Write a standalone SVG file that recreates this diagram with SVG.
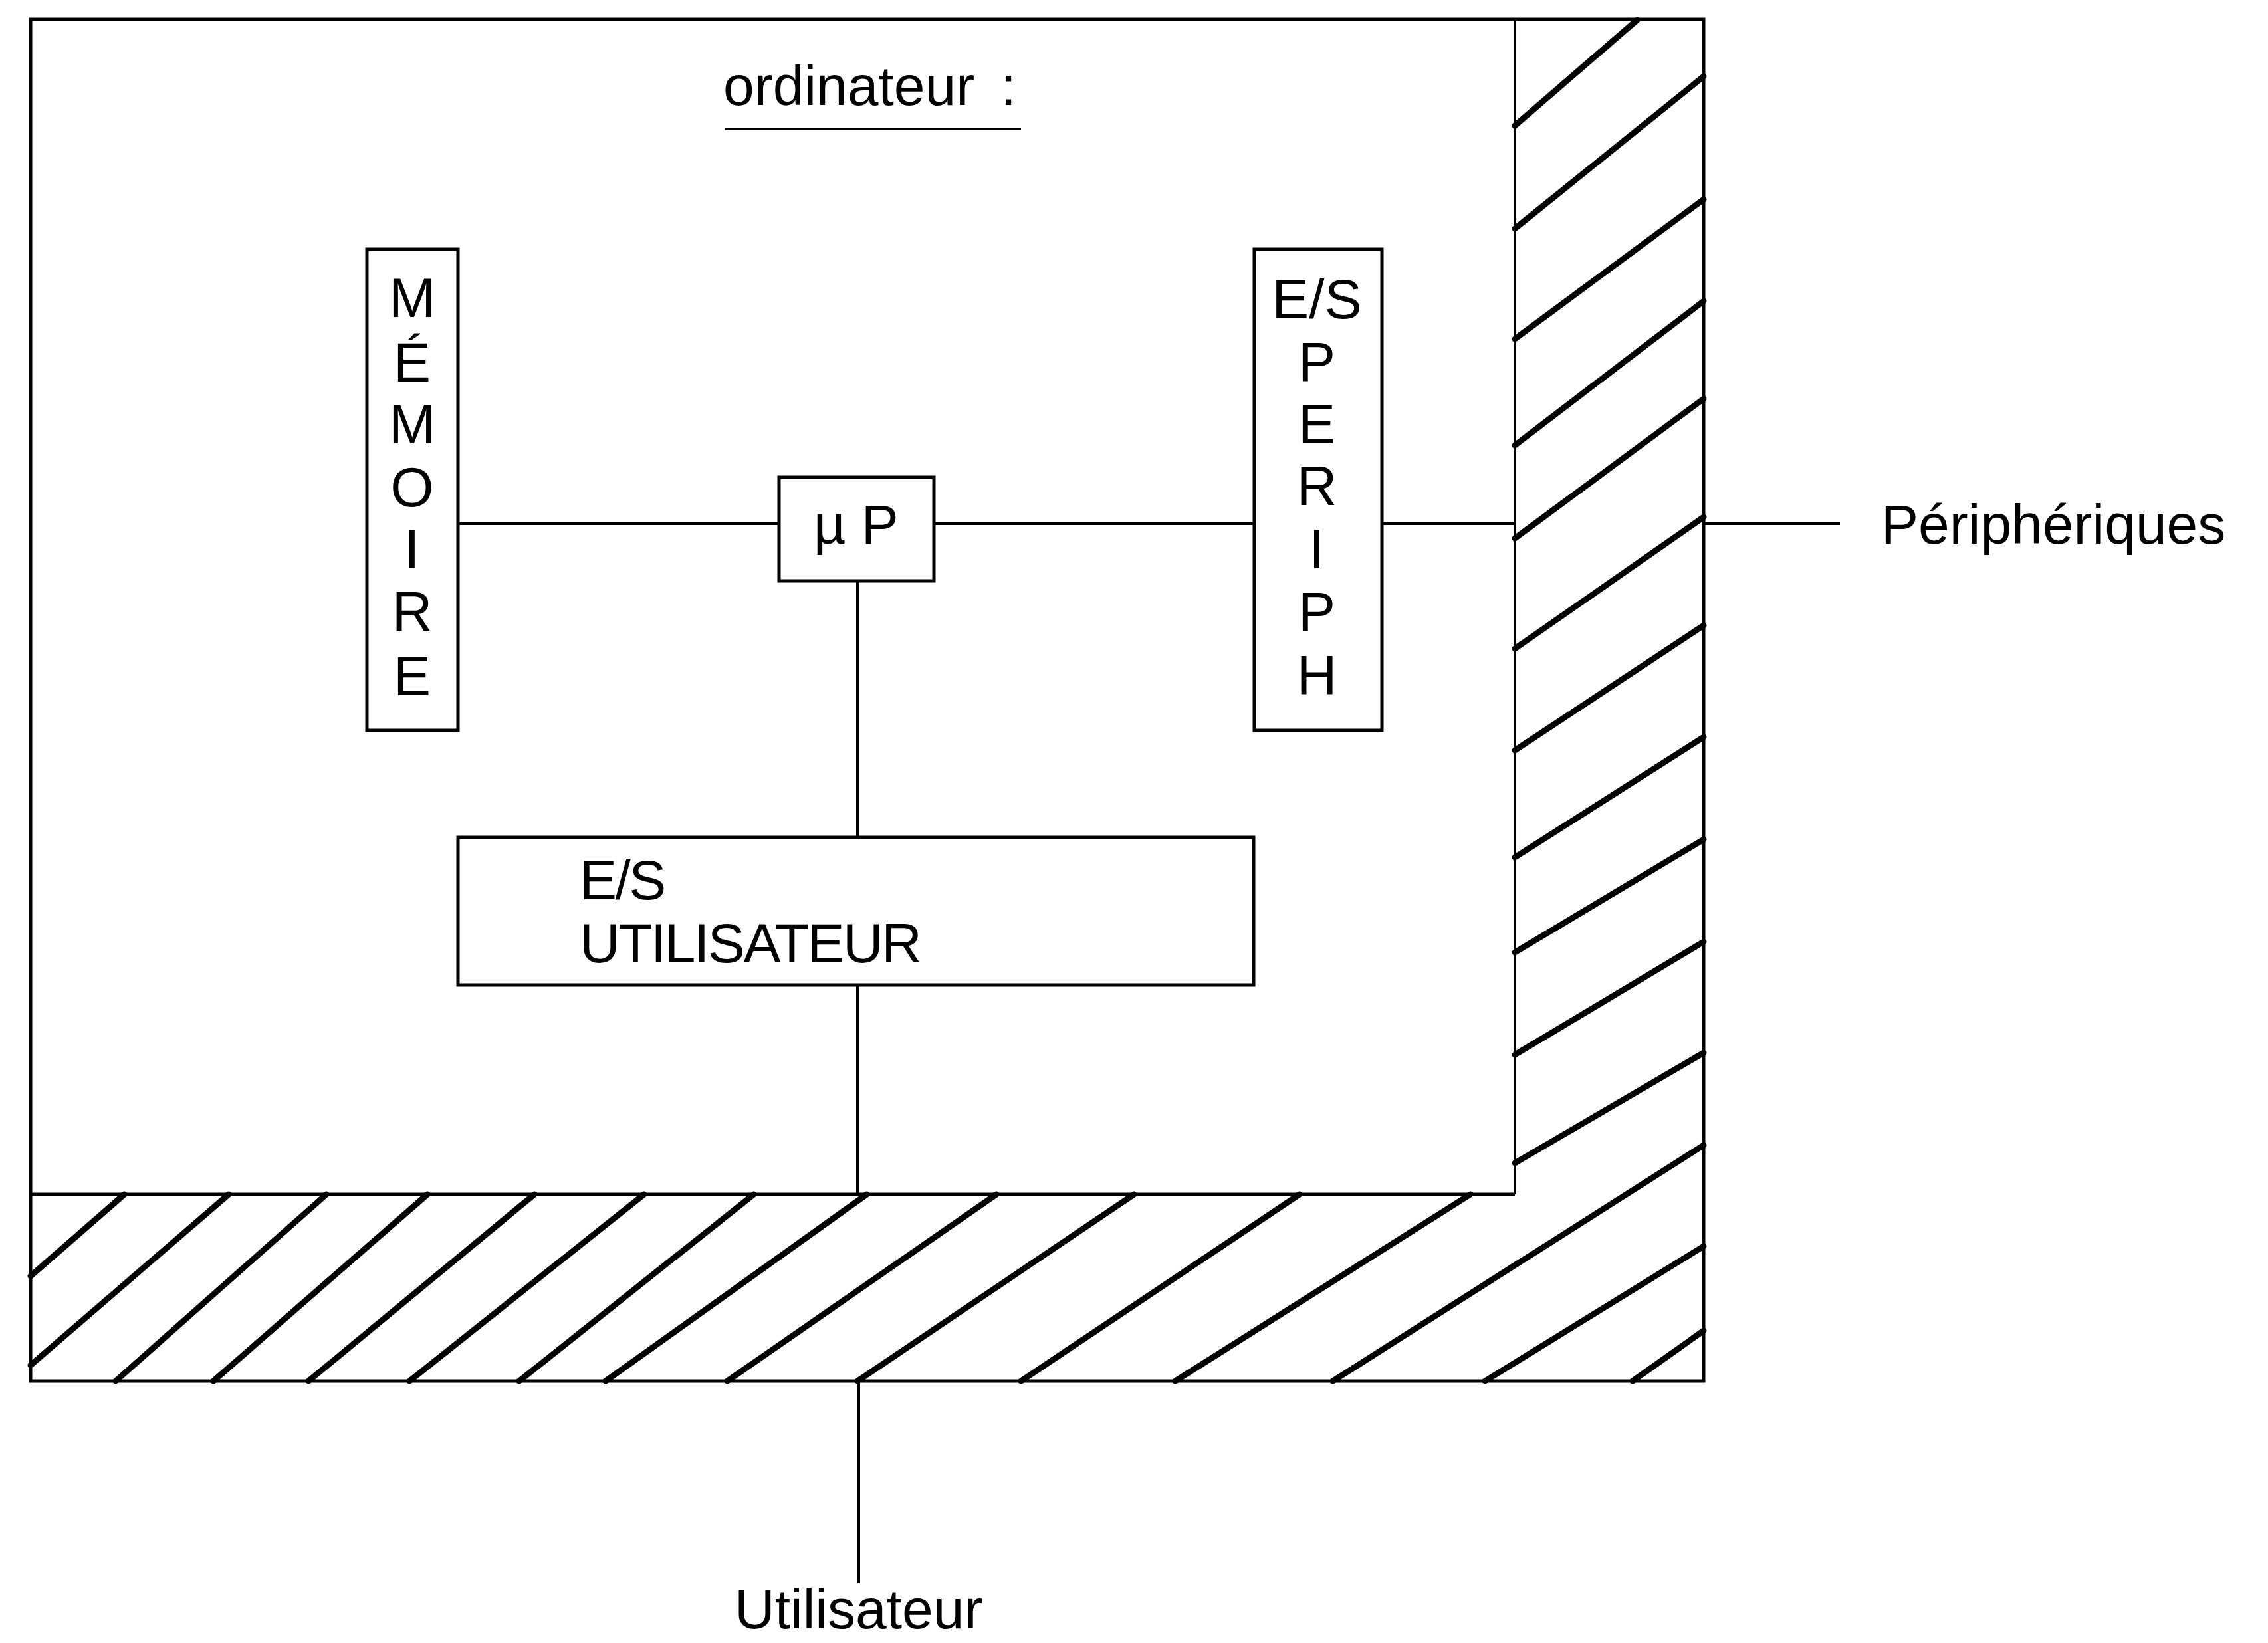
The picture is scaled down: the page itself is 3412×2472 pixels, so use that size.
<svg xmlns="http://www.w3.org/2000/svg" width="3412" height="2472" viewBox="0 0 3412 2472">
<style>
  .t { font-family: "Liberation Sans", Arial, Helvetica, sans-serif; font-size: 84px; fill: #000; }
  .c { text-anchor: middle; }
  .box { fill: #fff; stroke: #000; stroke-width: 5; }
  .conn { stroke: #000; stroke-width: 4; fill: none; }
  .frame { fill: none; stroke: #000; stroke-width: 5; }
  .hatch { stroke: #000; stroke-width: 9; stroke-linecap: round; fill: none; }
</style>
<rect width="3412" height="2472" fill="#fff"/>

<g id="ordinateur">
  <rect class="frame" x="46" y="29" width="2517" height="2049"/>
  <line class="conn" x1="2279" y1="29" x2="2279" y2="1797"/>
  <line class="frame" x1="46" y1="1797" x2="2279" y2="1797"/>
  <text class="t" x="1088" y="158" word-spacing="16">ordinateur :</text>
  <line x1="1090" y1="194" x2="1536" y2="194" stroke="#000" stroke-width="4"/>
</g>

<g id="hachures">
  <line class="hatch" x1="187" y1="1797" x2="46" y2="1920"/>
  <line class="hatch" x1="344" y1="1797" x2="46" y2="2054"/>
  <line class="hatch" x1="491" y1="1797" x2="174" y2="2078"/>
  <line class="hatch" x1="643" y1="1797" x2="321" y2="2078"/>
  <line class="hatch" x1="804" y1="1797" x2="464" y2="2078"/>
  <line class="hatch" x1="969" y1="1797" x2="616" y2="2078"/>
  <line class="hatch" x1="1134" y1="1797" x2="781" y2="2078"/>
  <line class="hatch" x1="1304" y1="1797" x2="911" y2="2078"/>
  <line class="hatch" x1="1499" y1="1797" x2="1094" y2="2078"/>
  <line class="hatch" x1="1706" y1="1797" x2="1290" y2="2078"/>
  <line class="hatch" x1="1955" y1="1797" x2="1536" y2="2078"/>
  <line class="hatch" x1="2212" y1="1797" x2="1768" y2="2078"/>
  <line class="hatch" x1="2563" y1="1723" x2="2005" y2="2078"/>
  <line class="hatch" x1="2563" y1="1875" x2="2234" y2="2078"/>
  <line class="hatch" x1="2563" y1="2002" x2="2456" y2="2078"/>
  <line class="hatch" x1="2463" y1="30" x2="2279" y2="189"/>
  <line class="hatch" x1="2563" y1="115" x2="2279" y2="344"/>
  <line class="hatch" x1="2563" y1="300" x2="2279" y2="510"/>
  <line class="hatch" x1="2563" y1="453" x2="2279" y2="670"/>
  <line class="hatch" x1="2563" y1="600" x2="2279" y2="810"/>
  <line class="hatch" x1="2563" y1="778" x2="2279" y2="976"/>
  <line class="hatch" x1="2563" y1="941" x2="2279" y2="1129"/>
  <line class="hatch" x1="2563" y1="1109" x2="2279" y2="1290"/>
  <line class="hatch" x1="2563" y1="1263" x2="2279" y2="1433"/>
  <line class="hatch" x1="2563" y1="1417" x2="2279" y2="1587"/>
  <line class="hatch" x1="2563" y1="1584" x2="2279" y2="1750"/>
</g>

<g id="connecteurs">
  <line class="conn" x1="689" y1="788" x2="1172" y2="788"/>
  <line class="conn" x1="1405" y1="788" x2="1887" y2="788"/>
  <line class="conn" x1="2079" y1="788" x2="2279" y2="788"/>
  <line class="conn" x1="2563" y1="788" x2="2768" y2="788"/>
  <line class="conn" x1="1290" y1="874" x2="1290" y2="1260"/>
  <line class="conn" x1="1290" y1="1482" x2="1290" y2="1797"/>
  <line class="conn" x1="1292" y1="2078" x2="1292" y2="2382"/>
</g>

<g id="memoire">
  <rect class="box" x="552" y="375" width="137" height="724"/>
  <text class="t c" x="620" y="477">M</text>
  <text class="t c" x="620" y="574">É</text>
  <text class="t c" x="620" y="667">M</text>
  <text class="t c" x="620" y="762">O</text>
  <text class="t c" x="620" y="855">I</text>
  <text class="t c" x="620" y="949">R</text>
  <text class="t c" x="620" y="1046">E</text>
</g>

<g id="microprocesseur">
  <rect class="box" x="1172" y="718" width="233" height="156"/>
  <text class="t c" x="1288" y="818">µ P</text>
</g>

<g id="es-periph">
  <rect class="box" x="1887" y="375" width="192" height="724"/>
  <text class="t c" x="1981" y="479">E/S</text>
  <text class="t c" x="1981" y="573">P</text>
  <text class="t c" x="1981" y="667">E</text>
  <text class="t c" x="1981" y="760">R</text>
  <text class="t c" x="1981" y="855">I</text>
  <text class="t c" x="1981" y="949">P</text>
  <text class="t c" x="1981" y="1045">H</text>
</g>

<g id="es-utilisateur">
  <rect class="box" x="689" y="1260" width="1197" height="222"/>
  <text class="t" x="872" y="1353" letter-spacing="-2.5">E/S</text>
  <text class="t" x="872" y="1448" letter-spacing="-2.5">UTILISATEUR</text>
</g>

<g id="peripheriques">
  <text class="t" x="2830" y="818">Périphériques</text>
</g>

<g id="utilisateur">
  <text class="t" x="1105" y="2450">Utilisateur</text>
</g>
</svg>
